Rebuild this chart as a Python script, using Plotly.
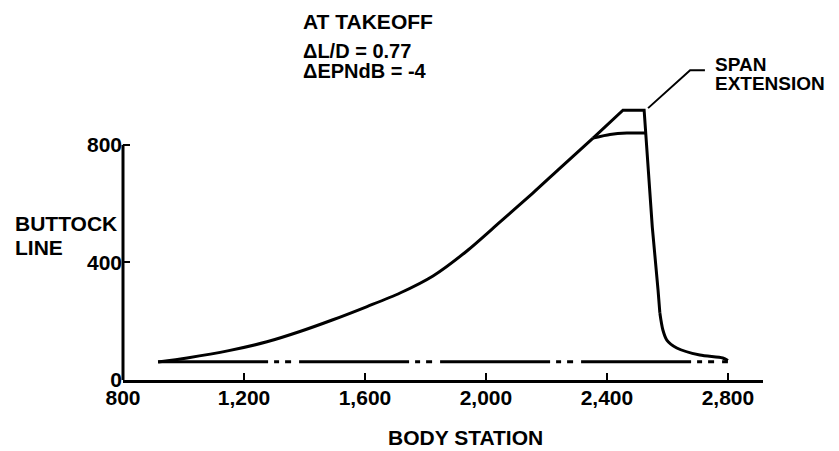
import plotly.graph_objects as go

# ---- data ----
rise_station = [916, 1012, 1150, 1276, 1385, 1494, 1607, 1716, 1825, 1937, 2046, 2155, 2245, 2354]
rise_buttock = [61, 75, 100, 130, 165, 205, 250, 296, 354, 439, 537, 636, 721, 823]

tip_station = [2354, 2453, 2523, 2532, 2550, 2569, 2575]
tip_buttock = [823, 918, 918, 782, 520, 306, 228]

tail_station = [2575, 2585, 2598, 2631, 2707, 2783, 2800]
tail_buttock = [228, 170, 136, 109, 85, 75, 66]

base_station = [2354, 2410, 2466, 2526]
base_buttock = [823, 835, 840, 840]

center_station = [916, 2800]
center_buttock = [62, 62]

leader_station = [2536, 2675, 2724]
leader_buttock = [925, 1054, 1054]

x_ticks = [800, 1200, 1600, 2000, 2400, 2800]
y_ticks = [0, 400, 800]

FONT = "Liberation Sans"
FS = 21

fig = go.Figure()
fig.add_trace(go.Scatter(x=center_station, y=center_buttock, mode="lines",
                         line=dict(color="black", width=3,
                                   dash="110px,6px,5px,6px,6px,8px"),
                         hoverinfo="skip"))
fig.add_trace(go.Scatter(x=rise_station, y=rise_buttock, mode="lines",
                         line=dict(color="black", width=3, shape="spline", smoothing=0.8),
                         hoverinfo="skip"))
fig.add_trace(go.Scatter(x=tip_station, y=tip_buttock, mode="lines",
                         line=dict(color="black", width=3), hoverinfo="skip"))
fig.add_trace(go.Scatter(x=tail_station, y=tail_buttock, mode="lines",
                         line=dict(color="black", width=3, shape="spline", smoothing=0.8),
                         hoverinfo="skip"))
fig.add_trace(go.Scatter(x=base_station, y=base_buttock, mode="lines",
                         line=dict(color="black", width=3, shape="spline", smoothing=0.6),
                         hoverinfo="skip"))
fig.add_trace(go.Scatter(x=leader_station, y=leader_buttock, mode="lines",
                         line=dict(color="black", width=2), hoverinfo="skip"))

# page has an 8px body margin: build the figure 8px smaller and shifted
OFF = 8
W, H = 839 - OFF, 451 - OFF
PL, PR, PT, PB = 123, 763, 42, 380   # plot area in page pixels
L, T = PL - OFF, PT - OFF
R = W - (PR - OFF)
B = H - (PB - OFF)


def px(x):
    return (x - PL) / (PR - PL)


def py(y):
    return (PB - y) / (PB - PT)


def note(text, x, y, xanchor="left", size=FS):
    fig.add_annotation(text=text, x=px(x), y=py(y), xref="paper", yref="paper",
                       xanchor=xanchor, yanchor="middle", showarrow=False,
                       borderpad=0, borderwidth=0,
                       font=dict(family=FONT, size=size, color="black", weight="bold"))


note("AT TAKEOFF", 303, 22)
note("ΔL/D = 0.77", 303, 51, size=20)
note("ΔEPNdB = -4", 303, 71, size=20)
note("BUTTOCK", 15, 223)
note("LINE", 15, 247)
note("SPAN", 715, 64, size=19)
note("EXTENSION", 715, 84, size=19)
note("BODY STATION", 465, 437, xanchor="center")

# y axis line only from 0 to 800
fig.add_shape(type="line", xref="paper", yref="y", x0=0, x1=0, y0=0, y1=800,
              line=dict(color="black", width=3))

fig.update_layout(
    width=W, height=H,
    margin=dict(l=L, r=R, t=T, b=B),
    paper_bgcolor="white", plot_bgcolor="white",
    showlegend=False,
    font=dict(family=FONT, size=FS, color="black", weight="bold"),
    xaxis=dict(range=[800, 2916], tickvals=x_ticks, tickformat=",",
               showline=True, linecolor="black", linewidth=3,
               ticks="inside", ticklen=7, tickwidth=2, tickcolor="black",
               ticklabelstandoff=-3,
               showgrid=False, zeroline=False, fixedrange=True),
    yaxis=dict(range=[0, 1150], tickvals=y_ticks,
               showline=False, ticks="inside", ticklen=7, tickwidth=2, tickcolor="black",
               showgrid=False, zeroline=False, fixedrange=True),
)

fig.write_html("out.html")
